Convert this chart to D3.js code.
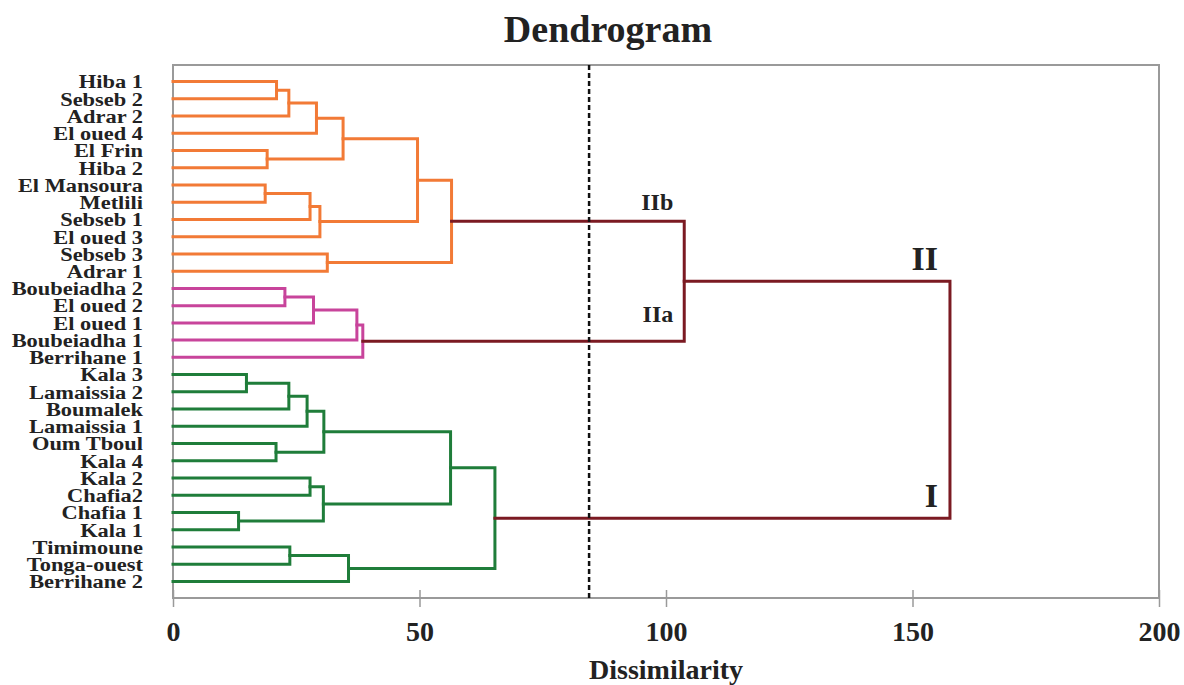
<!DOCTYPE html>
<html>
<head>
<meta charset="utf-8">
<script src="https://cdn.jsdelivr.net/npm/d3@7"></script>
<style>
  html, body { margin: 0; padding: 0; background: #fff; }
  svg { display: block; font-family: "Liberation Serif", "Times New Roman", serif; font-weight: bold; }
</style>
</head>
<body>
<div id="chart"></div>
<script>
// leaf order, top to bottom
const leaves = [
  "Hiba 1", "Sebseb 2", "Adrar 2", "El oued 4", "El Frin", "Hiba 2",
  "El Mansoura", "Metlili", "Sebseb 1", "El oued 3", "Sebseb 3", "Adrar 1",
  "Boubeiadha 2", "El oued 2", "El oued 1", "Boubeiadha 1", "Berrihane 1",
  "Kala 3", "Lamaissia 2", "Boumalek", "Lamaissia 1", "Oum Tboul", "Kala 4",
  "Kala 2", "Chafia2", "Chafia 1", "Kala 1", "Timimoune", "Tonga-ouest", "Berrihane 2"
];

// merges: [id, left child, right child, dissimilarity, group]
const merges = [
  ["m1", "Hiba 1", "Sebseb 2", 21.0, "IIb"],
  ["m2", "m1", "Adrar 2", 23.5, "IIb"],
  ["m3", "m2", "El oued 4", 29.1, "IIb"],
  ["m4", "El Frin", "Hiba 2", 19.1, "IIb"],
  ["m5", "m3", "m4", 34.5, "IIb"],
  ["m6", "El Mansoura", "Metlili", 18.7, "IIb"],
  ["m7", "m6", "Sebseb 1", 27.8, "IIb"],
  ["m8", "m7", "El oued 3", 29.8, "IIb"],
  ["m9", "m5", "m8", 49.6, "IIb"],
  ["m10", "Sebseb 3", "Adrar 1", 31.3, "IIb"],
  ["m11", "m9", "m10", 56.5, "IIb"],
  ["p1", "Boubeiadha 2", "El oued 2", 22.7, "IIa"],
  ["p2", "p1", "El oued 1", 28.5, "IIa"],
  ["p3", "p2", "Boubeiadha 1", 37.3, "IIa"],
  ["p4", "p3", "Berrihane 1", 38.5, "IIa"],
  ["g1", "Kala 3", "Lamaissia 2", 14.9, "I"],
  ["g2", "g1", "Boumalek", 23.5, "I"],
  ["g3", "g2", "Lamaissia 1", 27.2, "I"],
  ["g4", "Oum Tboul", "Kala 4", 20.9, "I"],
  ["g5", "g3", "g4", 30.6, "I"],
  ["g6", "Kala 2", "Chafia2", 27.8, "I"],
  ["g7", "Chafia 1", "Kala 1", 13.3, "I"],
  ["g8", "g6", "g7", 30.5, "I"],
  ["g9", "g5", "g8", 56.3, "I"],
  ["g10", "Timimoune", "Tonga-ouest", 23.7, "I"],
  ["g11", "g10", "Berrihane 2", 35.6, "I"],
  ["g12", "g9", "g11", 65.3, "I"],
  ["II", "m11", "p4", 103.7, "top"],
  ["root", "II", "g12", 157.6, "top"]
];

const groupColors = {IIb: "#f27a36", IIa: "#c8449b", I: "#1f7d3a", top: "#7b1a22"};

// cluster labels: [text, node it names]
const clusterLabels = [
  ["IIb", "m11"],
  ["IIa", "p4"],
  ["II", "II"],
  ["I", "g12"]
];

const xTicks = [0, 50, 100, 150, 200];
const cutLevel = 84.4;

const width = 1184, height = 685;
const marginTop = 65, marginRight = 25, marginBottom = 87, marginLeft = 173;

const svg = d3.select("#chart").append("svg")
    .attr("width", width)
    .attr("height", height)
    .attr("viewBox", [0, 0, width, height]);

const x = d3.scaleLinear([0, 200], [marginLeft, width - marginRight]);
const y = d3.scalePoint(leaves, [marginTop, height - marginBottom]).padding(0.96);

// node positions
const node = new Map();
leaves.forEach(l => node.set(l, {h: 0, y: y(l)}));
merges.forEach(([id, a, b, h]) => {
  node.set(id, {h, y: (node.get(a).y + node.get(b).y) / 2});
});

// frame
svg.append("rect")
    .attr("x", x(0))
    .attr("y", marginTop)
    .attr("width", x(200) - x(0))
    .attr("height", height - marginBottom - marginTop)
    .attr("fill", "none")
    .attr("stroke", "#9a9a9a")
    .attr("stroke-width", 2);

// x axis
svg.append("g")
    .attr("transform", `translate(0,${height - marginBottom})`)
    .call(d3.axisBottom(x).tickValues(xTicks).tickSize(9).tickPadding(14))
    .call(g => g.select(".domain").remove())
    .call(g => g.selectAll(".tick line").attr("y1", -8).attr("stroke", "#9a9a9a").attr("stroke-width", 1.5))
    .call(g => g.selectAll(".tick text")
        .attr("fill", "#222")
        .attr("font-family", "Liberation Serif, Times New Roman, serif")
        .attr("font-weight", "bold")
        .attr("font-size", 28));

// links
svg.append("g")
    .attr("fill", "none")
    .attr("stroke-width", 3)
    .attr("stroke-linejoin", "miter")
    .attr("stroke-linecap", "square")
  .selectAll("path")
  .data(merges)
  .join("path")
    .attr("stroke", d => groupColors[d[4]])
    .attr("d", ([id, a, b, h]) => {
      const na = node.get(a), nb = node.get(b);
      return `M${x(na.h)},${na.y}H${x(h)}V${nb.y}H${x(nb.h)}`;
    });

// cut line
svg.append("line")
    .attr("x1", x(cutLevel))
    .attr("x2", x(cutLevel))
    .attr("y1", marginTop)
    .attr("y2", height - marginBottom)
    .attr("stroke", "#111")
    .attr("stroke-width", 2.5)
    .attr("stroke-dasharray", "5,3");

// leaf labels (wide, short lettering as in the source figure)
svg.append("g")
    .attr("text-anchor", "end")
    .attr("font-size", 19)
    .attr("fill", "#222")
    .attr("transform", `translate(${marginLeft - 30},0) scale(1.18,1)`)
  .selectAll("text")
  .data(leaves)
  .join("text")
    .attr("x", 0)
    .attr("y", d => y(d))
    .attr("dy", "0.36em")
    .text(d => d);

// cluster labels, sitting just left of the joining vertical
const big = l => l === "II" || l === "I";
svg.append("g")
    .attr("text-anchor", "end")
    .attr("fill", "#222")
  .selectAll("text")
  .data(clusterLabels)
  .join("text")
    .attr("font-size", d => big(d[0]) ? 34 : 24)
    .attr("x", d => {
      const parent = merges.find(m => m[1] === d[1] || m[2] === d[1]);
      return x(parent[3]) - (big(d[0]) ? 12 : 11);
    })
    .attr("y", d => node.get(d[1]).y - (d[0] === "IIa" ? 19 : 11))
    .text(d => d[0]);

// title
svg.append("text")
    .attr("x", 608)
    .attr("y", 42)
    .attr("text-anchor", "middle")
    .attr("font-size", 38)
    .attr("fill", "#222")
    .text("Dendrogram");

// x label
svg.append("text")
    .attr("x", (x(0) + x(200)) / 2)
    .attr("y", 679)
    .attr("text-anchor", "middle")
    .attr("font-size", 28)
    .attr("fill", "#222")
    .text("Dissimilarity");
</script>
</body>
</html>
